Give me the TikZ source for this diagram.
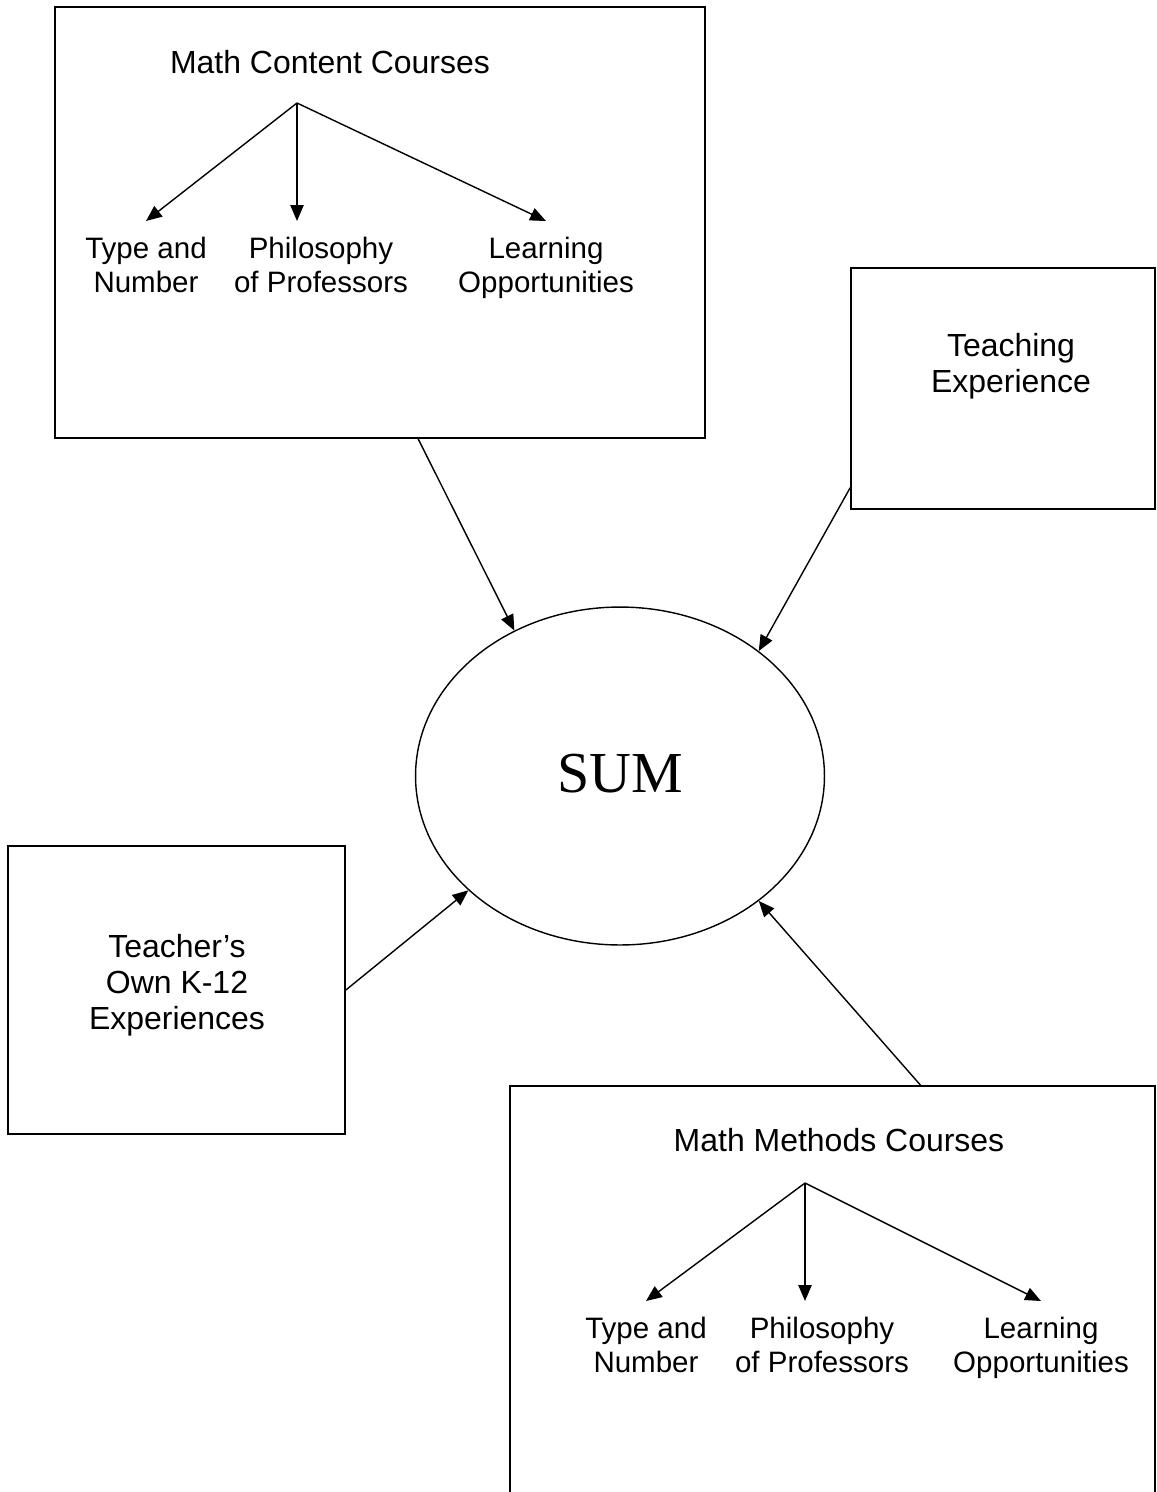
\documentclass[tikz,border=0pt]{standalone}
\usepackage{fontspec}
\setmainfont{Liberation Sans}
\newfontfamily\sumfont{Liberation Serif}
\usepackage{tikz}
\usetikzlibrary{arrows.meta,shapes.geometric}
\newcommand{\lblfont}{\fontsize{16.8}{19.3}\selectfont}
\newcommand{\ttlfont}{\fontsize{18.2}{20.6}\selectfont}

\begin{document}
\begin{tikzpicture}[>={Triangle[length=9pt,width=7.5pt]},x=0.02cm,y=-0.02cm,
  box/.style={draw,line width=1pt,inner sep=0pt,rectangle},
  lbl/.style={align=center,font=\lblfont,anchor=north,inner xsep=2pt,inner ysep=9pt},
  ttl/.style={align=center,font=\ttlfont},
  link/.style={->,line width=0.8pt}]
  \useasboundingbox (0,0) rectangle (1157,1492);
  % math content courses (top left)
  \node[box,minimum width=13cm,minimum height=8.62cm] (cont) at (380,222.5) {};
  \node[ttl] (ctitle) at (330,62) {Math Content Courses};
  \coordinate (cfork) at (297,103);
  \node[lbl] (ctype) at (146,221) {Type and\\Number};
  \node[lbl] (cphil) at (321,221) {Philosophy\\of Professors};
  \node[lbl] (clearn) at (546,221) {Learning\\Opportunities};
  \draw[link] (cfork) -- (ctype.north);
  \draw[link] (cfork) -- (cfork |- cphil.north);
  \draw[link] (cfork) -- (clearn.north);
  % teaching experience (top right)
  \node[box,minimum width=6.08cm,minimum height=4.82cm] (teach) at (1003,388.5) {};
  \node[ttl] (tlabel) at (1011,366) {Teaching\\Experience};
  % the sum in the middle
  \node[draw,ellipse,line width=0.8pt,inner sep=0pt,minimum width=8.18cm,minimum height=6.76cm] (sum) at (620,776) {};
  \node[font=\sumfont\fontsize{33}{38}\selectfont] (sumtext) at (620,774) {SUM};
  % teacher's own experiences (left)
  \node[box,minimum width=6.74cm,minimum height=5.76cm] (own) at (176.5,990) {};
  \node[ttl] (olabel) at (177,985) {Teacher’s\\Own K-12\\Experiences};
  % math methods courses (bottom right, runs off the page)
  \node[box,minimum width=12.9cm,minimum height=8.68cm] (meth) at (832.5,1303) {};
  \node[ttl] (mtitle) at (839,1140) {Math Methods Courses};
  \coordinate (mfork) at (805,1183);
  \node[lbl] (mtype) at (646,1301) {Type and\\Number};
  \node[lbl] (mphil) at (822,1301) {Philosophy\\of Professors};
  \node[lbl] (mlearn) at (1041,1301) {Learning\\Opportunities};
  \draw[link] (mfork) -- (mtype.north);
  \draw[link] (mfork) -- (mfork |- mphil.north);
  \draw[link] (mfork) -- (mlearn.north);
  % inputs to the sum
  \draw[link] (cont.280) -- (sum.126);
  \draw[link] (teach.213) -- (sum.42);
  \draw[link] (own.east) -- (sum.217.5);
  \draw[link] (meth.68) -- (sum.318);
\end{tikzpicture}
\end{document}
